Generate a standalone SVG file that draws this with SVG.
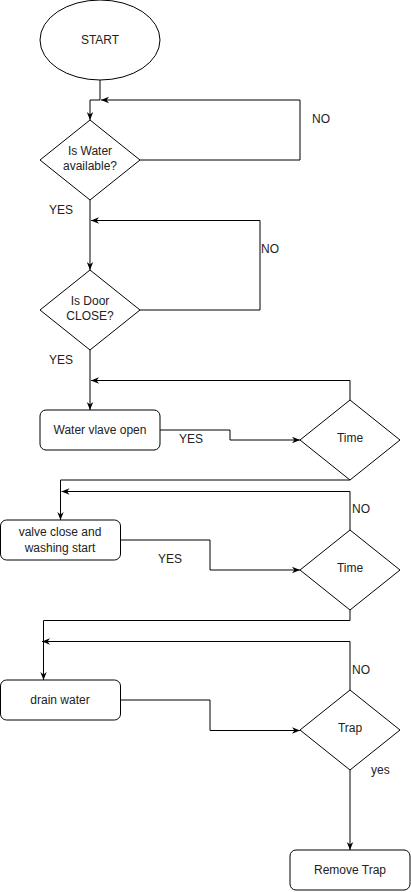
<svg xmlns="http://www.w3.org/2000/svg" width="411" height="892" viewBox="0 0 411 892">
<style>
.shape{fill:#fff;stroke:#000;stroke-width:1}
.edge{fill:none;stroke:#000;stroke-width:1;marker-end:url(#arr)}
text{font-family:"Liberation Sans",Arial,sans-serif;font-size:12px;fill:#222}
.c{text-anchor:middle}
</style>
<defs>
<marker id="arr" viewBox="0 0 10 10" refX="10" refY="5" markerWidth="8" markerHeight="8" markerUnits="userSpaceOnUse" orient="auto">
<path d="M0,1 L10,5 L0,9 L3,5 Z" fill="#000"/>
</marker>
</defs>
<rect width="411" height="892" fill="#fff"/>
<g id="connectors">
<path class="edge" d="M100,80 V100 H90 V120"/>
<path class="edge" d="M140,160 H300 V100 H101"/>
<path class="edge" d="M90,200 V270"/>
<path class="edge" d="M140,310 H260 V220.5 H91"/>
<path class="edge" d="M90,350 V410"/>
<path class="edge" d="M350,400 V380.5 H91"/>
<path class="edge" d="M160,430 H230 V440 H300"/>
<path class="edge" d="M350,480 H60.5 V520"/>
<path class="edge" d="M350,530 V491.5 H61.5"/>
<path class="edge" d="M120,540 H210 V570 H300"/>
<path class="edge" d="M350,610 V620.5 H43.5 V680"/>
<path class="edge" d="M350,690 V641.5 H42"/>
<path class="edge" d="M120,700 H210 V730.5 H300"/>
<path class="edge" d="M350,770 V850"/>
</g>
<g id="labels">
<text x="312" y="123">NO</text>
<text x="261" y="253">NO</text>
<text x="49" y="214">YES</text>
<text x="49" y="364">YES</text>
<text x="179" y="443">YES</text>
<text x="352" y="513">NO</text>
<text x="158" y="563">YES</text>
<text x="352" y="674">NO</text>
<text x="371" y="774">yes</text>
</g>
<g id="start">
<ellipse class="shape" cx="100" cy="40" rx="60" ry="40"/>
<text class="c" x="100" y="44">START</text>
</g>
<g id="water-available">
<polygon class="shape" points="90,120 140,160 90,200 40,160"/>
<text class="c" x="90" y="155">Is Water</text>
<text class="c" x="90" y="170">available?</text>
</g>
<g id="door-close">
<polygon class="shape" points="90,270 140,310 90,350 40,310"/>
<text class="c" x="90" y="305">Is Door</text>
<text class="c" x="90" y="320">CLOSE?</text>
</g>
<g id="valve-open">
<rect class="shape" x="40" y="410" width="120" height="40" rx="6"/>
<text class="c" x="100" y="434">Water vlave open</text>
</g>
<g id="time1">
<polygon class="shape" points="350,400 400,440 350,480 300,440"/>
<text class="c" x="350" y="442">Time</text>
</g>
<g id="washing">
<rect class="shape" x="0.5" y="520" width="120" height="40" rx="6"/>
<text class="c" x="60" y="536">valve close and</text>
<text class="c" x="60" y="552">washing start</text>
</g>
<g id="time2">
<polygon class="shape" points="350,530 400,570 350,610 300,570"/>
<text class="c" x="350" y="572">Time</text>
</g>
<g id="drain">
<rect class="shape" x="0.5" y="680" width="120" height="40" rx="6"/>
<text class="c" x="60" y="704">drain water</text>
</g>
<g id="trap">
<polygon class="shape" points="350,690 400,730 350,770 300,730"/>
<text class="c" x="350" y="732">Trap</text>
</g>
<g id="remove-trap">
<rect class="shape" x="290" y="850" width="120" height="40" rx="6"/>
<text class="c" x="350" y="874">Remove Trap</text>
</g>
</svg>
